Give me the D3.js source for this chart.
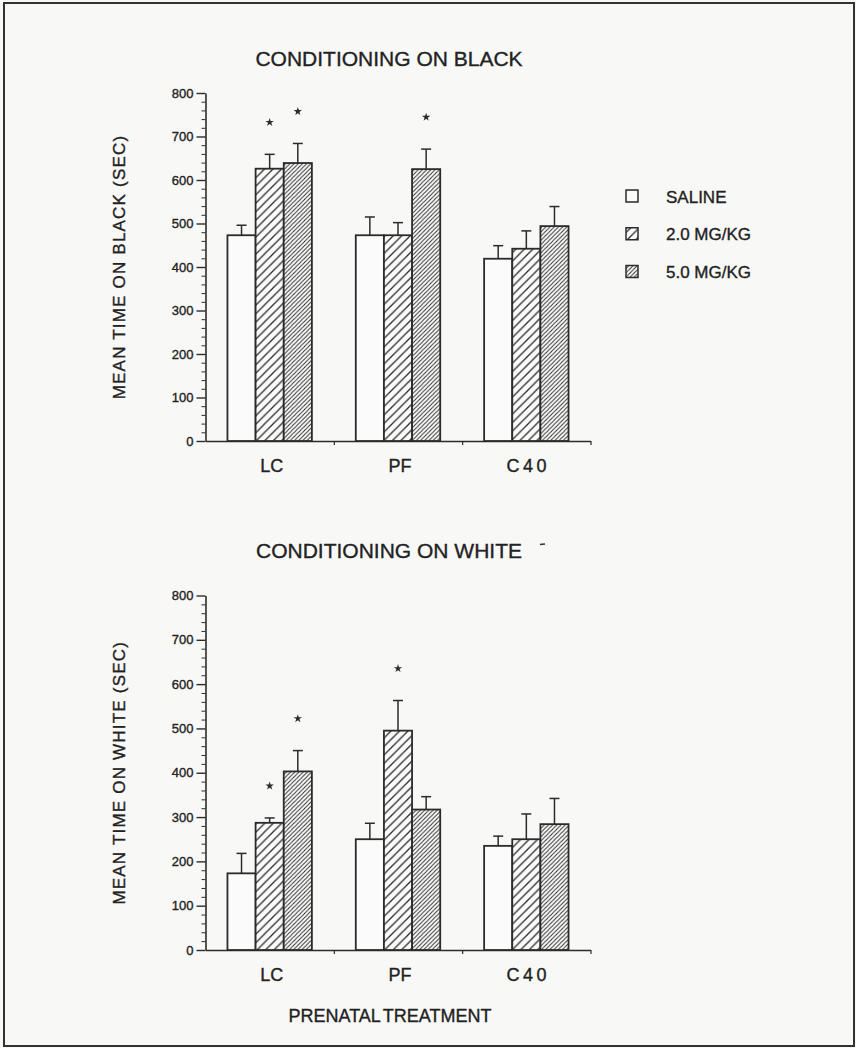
<!DOCTYPE html>
<html>
<head>
<meta charset="utf-8">
<script src="https://cdn.jsdelivr.net/npm/d3@7"></script>
<style>
  html, body { margin: 0; padding: 0; background: #f8f8f7; }
  svg { display: block; font-family: "Liberation Sans", Arial, Helvetica, sans-serif; }
  svg text { stroke: #222; stroke-width: 0.35px; }
</style>
</head>
<body>
<svg id="chart" width="856" height="1048"></svg>
<script>
// Prenatal treatment groups and dose conditions
const groups = ["LC", "PF", "C40"];
const doses = ["SALINE", "2.0 MG/KG", "5.0 MG/KG"];
const yTicks = [0, 100, 200, 300, 400, 500, 600, 700, 800];

// Conditioning on black: mean time (sec) and standard error, rows = groups, cols = doses
const blackMeans = [[473, 626, 639], [473, 473, 625], [419, 442, 494]];
const blackSE    = [[23, 33, 45], [42, 29, 46], [30, 41, 45]];
const blackSig   = [[0, 1, 1], [0, 0, 1], [0, 0, 0]];

// Conditioning on white
const whiteMeans = [[173, 287, 403], [250, 495, 317], [235, 250, 284]];
const whiteSE    = [[45, 11, 47], [36, 68, 29], [22, 57, 58]];
const whiteSig   = [[0, 1, 1], [0, 1, 0], [0, 0, 0]];

const ink = "#2b2b2b";
const svg = d3.select("#chart");

// Page background and frame
svg.append("rect").attr("width", 856).attr("height", 1048).attr("fill", "#f8f8f7");
svg.append("rect").attr("x", 4).attr("y", 3).attr("width", 850).attr("height", 1043)
  .attr("fill", "none").attr("stroke", "#333").attr("stroke-width", 2);

// Hatch patterns for the drug doses
const defs = svg.append("defs");
function hatch(id, s, w) {
  const p = defs.append("pattern").attr("id", id)
    .attr("patternUnits", "userSpaceOnUse").attr("width", s).attr("height", s);
  p.append("rect").attr("width", s).attr("height", s).attr("fill", "#fbfbfb");
  p.append("path")
    .attr("d", `M0,${s} L${s},0 M${-s / 2},${s / 2} L${s / 2},${-s / 2} M${s / 2},${s * 1.5} L${s * 1.5},${s / 2}`)
    .attr("stroke", ink).attr("stroke-width", w);
}
hatch("hatchWide", 8.5, 1.3);
hatch("hatchDense", 4.2, 1.0);
const fills = ["#fbfbfb", "url(#hatchWide)", "url(#hatchDense)"];

const x0 = d3.scaleBand().domain(groups).range([205.5, 590.5]);
const x1 = d3.scaleBand().domain(doses).range([0, x0.bandwidth()]).paddingOuter(0.78);

function panel(cfg) {
  const y = d3.scaleLinear().domain([0, 800]).range(cfg.yRange);
  const g = svg.append("g");

  // y axis with major and minor ticks
  g.append("g").attr("transform", "translate(205.5,0)")
    .call(d3.axisLeft(y).tickValues(yTicks).tickSize(9).tickSizeOuter(0).tickPadding(3))
    .call(a => a.select(".domain").attr("stroke", ink).attr("stroke-width", 1.6))
    .call(a => a.selectAll(".tick line").attr("stroke", ink).attr("stroke-width", 1.4))
    .call(a => a.selectAll(".tick text").attr("font-size", 13).attr("fill", "#222")
      .attr("font-family", "Liberation Sans, Arial, sans-serif"));
  g.append("g").attr("transform", "translate(205.5,0)")
    .call(d3.axisLeft(y).tickValues(d3.range(0, 801, 20).filter(v => v % 100 !== 0))
      .tickSize(4).tickSizeOuter(0).tickFormat(""))
    .call(a => a.select(".domain").remove())
    .call(a => a.selectAll(".tick line").attr("stroke", ink).attr("stroke-width", 1));

  // x axis line with small ticks at group boundaries
  const xb = d3.scaleLinear().domain([0, groups.length]).range(x0.range());
  g.append("g").attr("transform", `translate(0,${y(0)})`)
    .call(d3.axisBottom(xb).tickValues([1, 2, 3]).tickSize(4).tickSizeOuter(0).tickFormat(""))
    .call(a => a.select(".domain").attr("stroke", ink).attr("stroke-width", 1.6))
    .call(a => a.selectAll(".tick line").attr("stroke", ink).attr("stroke-width", 1.2));

  // group labels
  g.selectAll(".grp").data(groups).join("text")
    .attr("x", d => x0(d) + x0.bandwidth() / 2 + 2)
    .attr("y", y(0) + 31)
    .attr("text-anchor", "middle").attr("font-size", 18).attr("fill", "#222")
    .attr("letter-spacing", d => /\d/.test(d) ? 3.5 : 0)
    .text(d => d);

  // bars, error bars and significance marks
  groups.forEach((grp, i) => {
    doses.forEach((dose, k) => {
      const v = cfg.means[i][k], se = cfg.se[i][k];
      const bx = x0(grp) + x1(dose), bw = x1.bandwidth(), cx = bx + bw / 2;
      g.append("rect").attr("x", bx).attr("y", y(v)).attr("width", bw).attr("height", y(0) - y(v))
        .attr("fill", fills[k]).attr("stroke", ink).attr("stroke-width", 1.8);
      g.append("line").attr("x1", cx).attr("x2", cx).attr("y1", y(v)).attr("y2", y(v + se))
        .attr("stroke", ink).attr("stroke-width", 1.5);
      g.append("line").attr("x1", cx - 5).attr("x2", cx + 5).attr("y1", y(v + se)).attr("y2", y(v + se))
        .attr("stroke", ink).attr("stroke-width", 1.5);
      if (cfg.sig[i][k]) {
        g.append("path").attr("d", d3.symbol(d3.symbolStar, 22)())
          .attr("transform", `translate(${cx},${y(v + se) - 32})`).attr("fill", ink);
      }
    });
  });

  // titles
  g.append("text").attr("x", 389).attr("y", cfg.titleY).attr("text-anchor", "middle")
    .attr("font-size", 21).attr("fill", "#222").text(cfg.title);
  const ymid = (cfg.yRange[0] + cfg.yRange[1]) / 2;
  g.append("text").attr("transform", `translate(125,${ymid}) rotate(-90)`)
    .attr("text-anchor", "middle").attr("font-size", 17).attr("letter-spacing", 1.2)
    .attr("fill", "#222").text(cfg.ylabel);
  return g;
}

panel({ yRange: [441, 93], means: blackMeans, se: blackSE, sig: blackSig,
        title: "CONDITIONING ON BLACK", titleY: 66, ylabel: "MEAN TIME ON BLACK (SEC)" });
panel({ yRange: [950, 595.5], means: whiteMeans, se: whiteSE, sig: whiteSig,
        title: "CONDITIONING ON WHITE", titleY: 558, ylabel: "MEAN TIME ON WHITE (SEC)" });

// stray mark after the second title
svg.append("line").attr("x1", 540).attr("x2", 545).attr("y1", 544.5).attr("y2", 544)
  .attr("stroke", "#333").attr("stroke-width", 1.5);

// legend
const ly = d3.scalePoint().domain(doses).range([196, 271.5]);
const lg = svg.append("g");
doses.forEach((d, k) => {
  lg.append("rect").attr("x", 626).attr("y", ly(d) - 6).attr("width", 12).attr("height", 12)
    .attr("fill", fills[k]).attr("stroke", ink).attr("stroke-width", 1.5);
  lg.append("text").attr("x", 666).attr("y", ly(d) + 6.5).attr("font-size", 17)
    .attr("fill", "#222").text(d);
});

// shared x axis title
svg.append("text").attr("x", 390).attr("y", 1021.5).attr("text-anchor", "middle")
  .attr("font-size", 18).attr("word-spacing", -2).attr("fill", "#222").text("PRENATAL TREATMENT");
</script>
</body>
</html>
